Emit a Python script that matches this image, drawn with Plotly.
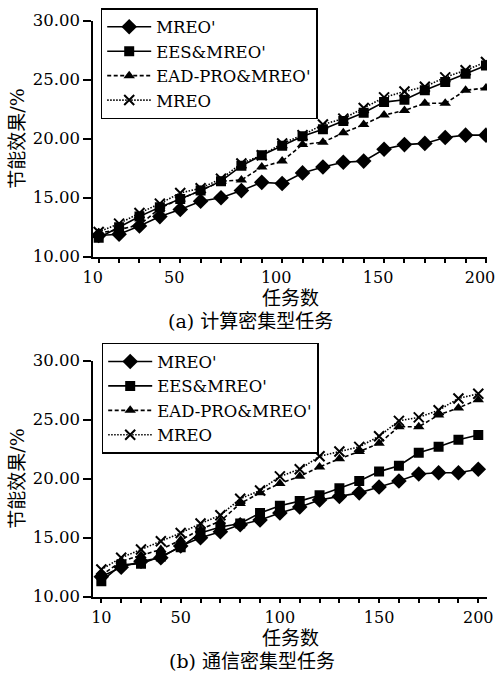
import plotly.graph_objects as go

# ---- data ----
tasks = [10, 20, 30, 40, 50, 60, 70, 80, 90, 100, 110, 120, 130, 140, 150, 160, 170, 180, 190, 200]
x_tick_vals = [10, 20, 30, 40, 50, 60, 70, 80, 90, 100, 110, 120, 130, 140, 150, 160, 170, 180, 190, 200]
x_tick_text = ["10", "", "", "", "50", "", "", "", "", "100", "", "", "", "", "150", "", "", "", "", "200"]
y_tick_vals = [10, 15, 20, 25, 30]
y_tick_text = ["10.00", "15.00", "20.00", "25.00", "30.00"]

series_names = ["MREO'", "EES&MREO'", "EAD-PRO&MREO'", "MREO"]

# (a) compute-intensive
mreo_p_a = [11.8, 11.9, 12.6, 13.4, 14.0, 14.7, 15.0, 15.6, 16.3, 16.2, 17.1, 17.6, 18.0, 18.1, 19.1, 19.5, 19.6, 20.1, 20.3, 20.3]
ees_a = [11.6, 12.5, 13.4, 14.2, 14.9, 15.6, 16.4, 17.7, 18.6, 19.4, 20.2, 20.8, 21.5, 22.2, 23.1, 23.3, 24.1, 24.8, 25.5, 26.2]
ead_a = [12.0, 12.3, 12.7, 14.1, 14.9, 15.6, 16.4, 16.5, 17.6, 18.1, 19.5, 19.7, 20.5, 21.2, 22.0, 22.4, 23.0, 23.0, 24.1, 24.3]
mreo_a = [12.1, 12.8, 13.7, 14.5, 15.4, 15.8, 16.6, 17.9, 18.6, 19.6, 20.3, 21.2, 21.7, 22.6, 23.5, 24.0, 24.4, 25.2, 25.8, 26.5]

# (b) communication-intensive
mreo_p_b = [11.7, 12.5, 13.0, 13.3, 14.3, 15.0, 15.5, 16.1, 16.5, 17.1, 17.6, 18.2, 18.5, 18.8, 19.3, 19.8, 20.4, 20.5, 20.5, 20.8]
ees_b = [11.3, 12.7, 12.8, 13.4, 14.2, 15.4, 15.9, 16.2, 17.1, 17.7, 18.1, 18.6, 19.2, 19.8, 20.6, 21.1, 22.2, 22.7, 23.3, 23.7]
ead_b = [11.8, 13.0, 13.5, 14.0, 14.8, 15.7, 16.4, 17.9, 18.8, 19.6, 20.2, 21.0, 21.7, 22.3, 23.0, 24.4, 24.4, 25.4, 26.0, 26.7]
mreo_b = [12.3, 13.3, 14.0, 14.7, 15.4, 16.2, 16.9, 18.3, 19.0, 20.2, 20.8, 21.9, 22.3, 22.7, 23.6, 24.9, 25.2, 25.8, 26.8, 27.2]

y_title = "节能效果/%"
x_title = "任务数"
caption_a = "(a) 计算密集型任务"
caption_b = "(b) 通信密集型任务"

# ---- styles ----
SERIF = "DejaVu Serif"
CJK = "DejaVu Serif, Noto Sans CJK SC"
styles = [
    dict(dash="solid", symbol="diamond", size=12),
    dict(dash="solid", symbol="square", size=10),
    dict(dash="4px,2.5px", symbol="triangle-up", size=10),
    dict(dash="1.5px,1.5px", symbol="x-thin-open", size=10),
]

fig = go.Figure()

def add_group(ys_list, xaxis, yaxis, legend):
    for name, ys, st in zip(series_names, ys_list, styles):
        fig.add_trace(go.Scatter(
            x=tasks, y=ys, name=name, mode="lines+markers",
            xaxis=xaxis, yaxis=yaxis, legend=legend,
            line=dict(color="black", width=1.6, dash=st["dash"]),
            marker=dict(symbol=st["symbol"], size=st["size"], color="black",
                        line=dict(color="black", width=2 if st["symbol"] == "x-thin-open" else 0)),
        ))

add_group([mreo_p_a, ees_a, ead_a, mreo_a], "x", "y", "legend")
add_group([mreo_p_b, ees_b, ead_b, mreo_b], "x2", "y2", "legend2")

xdom = [93 / 495, 487 / 495]
ydom_a = [1 - 256.7 / 676, 1 - 20.7 / 676]
ydom_b = [1 - 596.7 / 676, 1 - 360.7 / 676]

axis_common = dict(showgrid=False, zeroline=False, showline=True, linecolor="black",
                   linewidth=1.5, ticks="outside", tickcolor="black", tickwidth=1.5,
                   automargin=False)
xfont = dict(family=SERIF, size=16, color="black")
yfont = dict(family=SERIF, size=16.5, color="black")

legend_common = dict(xanchor="left", yanchor="top", bgcolor="white",
                     bordercolor="black", borderwidth=1.5, itemwidth=44,
                     font=dict(family=SERIF, size=16.5, color="black"), tracegroupgap=0)

fig.update_layout(
    template="none",
    width=495, height=676,
    margin=dict(l=0, r=0, t=0, b=0, autoexpand=False),
    paper_bgcolor="white", plot_bgcolor="white",
    font=dict(family=SERIF, color="black"),
    xaxis=dict(domain=xdom, anchor="y", range=[7.2, 200.5], tickvals=x_tick_vals,
               ticktext=x_tick_text, ticklen=5, tickfont=xfont, ticklabelshift=-6,
               ticklabeloverflow="allow", **axis_common),
    yaxis=dict(domain=ydom_a, anchor="x", range=[10, 30], tickvals=y_tick_vals,
               ticktext=y_tick_text, ticklen=8, tickfont=yfont, **axis_common),
    xaxis2=dict(domain=xdom, anchor="y2", range=[5.8, 204.4], tickvals=x_tick_vals,
                ticktext=x_tick_text, ticklen=5, tickfont=xfont,
                ticklabeloverflow="allow", **axis_common),
    yaxis2=dict(domain=ydom_b, anchor="x2", range=[10, 30], tickvals=y_tick_vals,
                ticktext=y_tick_text, ticklen=8, tickfont=yfont, **axis_common),
    legend=dict(x=100.7 / 495, y=1 - 8 / 676, **legend_common),
    legend2=dict(x=101.7 / 495, y=1 - 342.7 / 676, **legend_common),
    showlegend=True,
)

ann_font = dict(family=CJK, size=19, color="black")
for yc, xt_y, cap_y, cap_x, cap in [((20.7 + 256.7) / 2, 298, 321, 250, caption_a),
                                    ((360.7 + 596.7) / 2, 638, 661, 252, caption_b)]:
    fig.add_annotation(x=17 / 495, y=1 - yc / 676, xref="paper", yref="paper",
                       text=y_title, textangle=-90, showarrow=False, font=ann_font,
                       xanchor="center", yanchor="middle")
    fig.add_annotation(x=290 / 495, y=1 - xt_y / 676, xref="paper", yref="paper",
                       text=x_title, showarrow=False, font=ann_font,
                       xanchor="center", yanchor="middle")
    fig.add_annotation(x=cap_x / 495, y=1 - cap_y / 676, xref="paper", yref="paper",
                       text=cap, showarrow=False, font=ann_font,
                       xanchor="center", yanchor="middle")

fig.write_html("out.html", config={"displayModeBar": False},
               post_script="document.body.style.margin='0';")
